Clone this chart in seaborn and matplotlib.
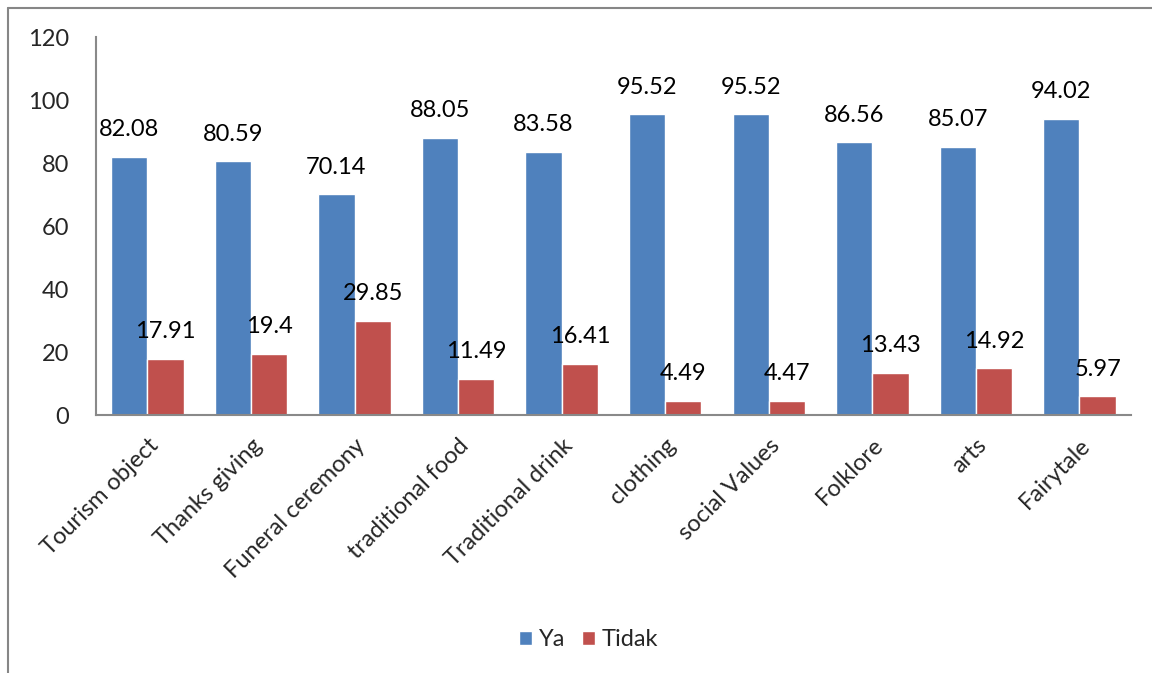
import matplotlib
matplotlib.use('Agg')
import matplotlib.pyplot as plt
import pandas as pd
import seaborn as sns
from matplotlib.lines import Line2D

categories = ['Tourism object', 'Thanks giving', 'Funeral ceremony', 'traditional food',
              'Traditional drink', 'clothing', 'social Values', 'Folklore', 'arts', 'Fairytale']
ya = [82.08, 80.59, 70.14, 88.05, 83.58, 95.52, 95.52, 86.56, 85.07, 94.02]
tidak = [17.91, 19.4, 29.85, 11.49, 16.41, 4.49, 4.47, 13.43, 14.92, 5.97]
series = ['Ya', 'Tidak']
colors = ['#4F81BD', '#C0504D']

df = pd.DataFrame({'kategori': categories * 2,
                   'nilai': ya + tidak,
                   'seri': ['Ya'] * len(ya) + ['Tidak'] * len(tidak)})

sns.set_style('white')
plt.rcParams['font.family'] = ['Lato', 'DejaVu Sans']

fig = plt.figure(figsize=(11.52, 6.73), dpi=100)
ax = fig.add_axes([0.083, 0.383, 0.899, 0.562])

sns.barplot(data=df, x='kategori', y='nilai', hue='seri', hue_order=series,
            palette=colors, width=0.7, saturation=1, edgecolor='white',
            linewidth=1, ax=ax)

for cont in ax.containers:
    ax.bar_label(cont, labels=['%g' % b.get_height() for b in cont],
                 padding=12, fontsize=17, color='black')

ax.set_ylim(0, 120)
ax.set_yticks(range(0, 121, 20))
ax.set_xlim(-0.5, len(categories) - 0.5)
ax.set_xlabel('')
ax.set_ylabel('')
ax.tick_params(axis='y', labelsize=17, length=0, pad=19)
ax.tick_params(axis='x', labelsize=17, length=0, pad=14)
plt.setp(ax.get_xticklabels(), rotation=45, ha='right', rotation_mode='anchor')

for s in ['top', 'right']:
    ax.spines[s].set_visible(False)
for s in ['left', 'bottom']:
    ax.spines[s].set_color('#898989')
    ax.spines[s].set_linewidth(1.5)

ax.legend(loc='center', bbox_to_anchor=(0.476, -0.594), ncol=2, frameon=False,
          fontsize=17, handlelength=0.55, handleheight=0.55, columnspacing=0.7,
          handletextpad=0.3)

# chart border like the original
fig.add_artist(Line2D([8 / 1152, 8 / 1152], [0, 1 - 8 / 673],
                      transform=fig.transFigure, color='#868686', lw=1.5))
fig.add_artist(Line2D([8 / 1152, 1], [1 - 8 / 673, 1 - 8 / 673],
                      transform=fig.transFigure, color='#868686', lw=1.5))

fig.savefig('out.png', dpi=100, facecolor='white')
